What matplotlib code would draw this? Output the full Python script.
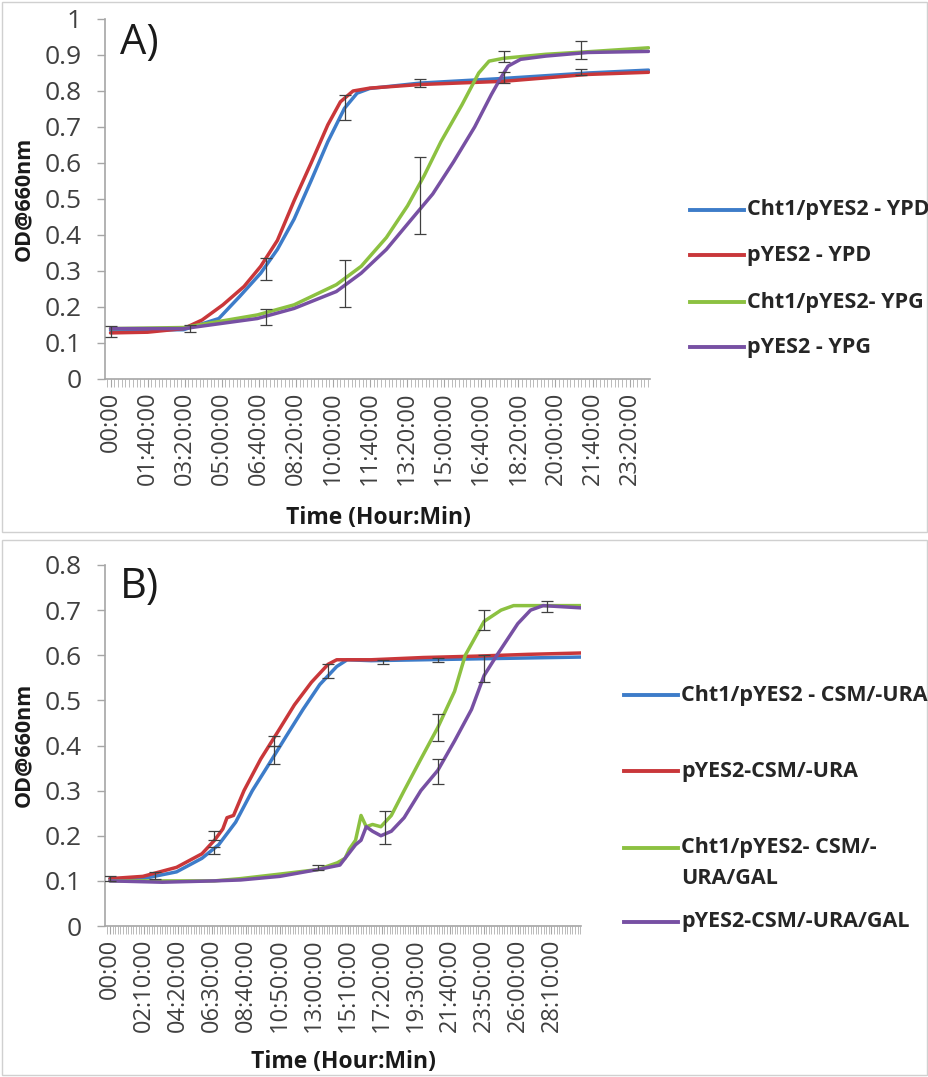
import matplotlib
matplotlib.use("Agg")
import matplotlib.pyplot as plt
from matplotlib.patches import Rectangle
from matplotlib.lines import Line2D
from matplotlib.ticker import FixedLocator, MultipleLocator

plt.rcParams['font.family'] = ['Open Sans', 'DejaVu Sans']

# ---------------- Panel A data (time in minutes, OD660) ----------------
a_blue_t = [0, 197, 292, 348, 405, 450, 495, 541, 586, 631, 665, 699, 835, 1061, 1287, 1451]
a_blue_v = [0.135, 0.137, 0.168, 0.229, 0.294, 0.360, 0.444, 0.551, 0.659, 0.752, 0.794, 0.807, 0.822, 0.835, 0.850, 0.858]

a_red_t = [0, 100, 197, 247, 303, 360, 405, 450, 495, 541, 586, 620, 654, 699, 835, 1061, 1287, 1451]
a_red_v = [0.128, 0.130, 0.140, 0.164, 0.206, 0.257, 0.313, 0.385, 0.495, 0.600, 0.706, 0.770, 0.800, 0.808, 0.818, 0.827, 0.846, 0.852]

a_green_t = [0, 197, 396, 495, 609, 676, 744, 801, 846, 891, 948, 993, 1021, 1061, 1174, 1287, 1451]
a_green_v = [0.140, 0.143, 0.178, 0.206, 0.262, 0.313, 0.393, 0.481, 0.565, 0.659, 0.762, 0.850, 0.883, 0.891, 0.902, 0.909, 0.920]

a_purple_t = [0, 197, 396, 495, 609, 676, 744, 812, 869, 925, 982, 1027, 1050, 1072, 1106, 1174, 1287, 1451]
a_purple_v = [0.140, 0.140, 0.168, 0.196, 0.243, 0.294, 0.360, 0.444, 0.514, 0.603, 0.700, 0.790, 0.832, 0.869, 0.888, 0.897, 0.907, 0.910]

a_err_t = [0, 213, 418, 418, 631, 631, 835, 835, 1061, 1061, 1270, 1270]
a_err_y = [0.132, 0.140, 0.305, 0.172, 0.755, 0.265, 0.822, 0.510, 0.838, 0.895, 0.853, 0.915]
a_err_e = [0.015, 0.010, 0.030, 0.023, 0.035, 0.065, 0.012, 0.108, 0.015, 0.015, 0.008, 0.025]

a_labels = ["Cht1/pYES2 - YPD", "pYES2 - YPD", "Cht1/pYES2- YPG", "pYES2 - YPG"]
a_tick_min = [0, 100, 200, 300, 400, 500, 600, 700, 800, 900, 1000, 1100, 1200, 1300, 1400]
a_tick_lbl = ["00:00", "01:40:00", "03:20:00", "05:00:00", "06:40:00", "08:20:00", "10:00:00",
              "11:40:00", "13:20:00", "15:00:00", "16:40:00", "18:20:00", "20:00:00",
              "21:40:00", "23:20:00"]

# ---------------- Panel B data ----------------
b_blue_t = [0, 126, 255, 352, 416, 481, 545, 610, 674, 739, 803, 868, 908, 1000, 1200, 1400, 1600, 1803]
b_blue_v = [0.105, 0.105, 0.120, 0.150, 0.180, 0.230, 0.300, 0.360, 0.420, 0.480, 0.535, 0.575, 0.590, 0.588, 0.590, 0.592, 0.594, 0.596]

b_red_t = [0, 126, 255, 352, 400, 432, 448, 473, 513, 577, 642, 706, 771, 835, 868, 1000, 1200, 1400, 1600, 1803]
b_red_v = [0.105, 0.110, 0.130, 0.160, 0.190, 0.215, 0.240, 0.245, 0.300, 0.370, 0.430, 0.490, 0.540, 0.580, 0.590, 0.590, 0.595, 0.598, 0.602, 0.605]

b_green_t = [0, 200, 400, 500, 650, 795, 870, 900, 916, 940, 961, 981, 1005, 1037, 1077, 1126, 1190, 1255, 1319, 1360, 1432, 1497, 1545, 1700, 1803]
b_green_v = [0.100, 0.100, 0.100, 0.105, 0.115, 0.125, 0.140, 0.150, 0.170, 0.190, 0.245, 0.220, 0.225, 0.220, 0.245, 0.300, 0.370, 0.440, 0.520, 0.600, 0.675, 0.700, 0.710, 0.710, 0.710]

b_purple_t = [0, 200, 400, 500, 650, 795, 880, 940, 961, 981, 1005, 1037, 1077, 1126, 1190, 1255, 1319, 1384, 1432, 1481, 1561, 1610, 1658, 1803]
b_purple_v = [0.100, 0.097, 0.100, 0.102, 0.110, 0.125, 0.135, 0.180, 0.190, 0.220, 0.210, 0.200, 0.210, 0.240, 0.300, 0.345, 0.410, 0.480, 0.555, 0.600, 0.670, 0.700, 0.710, 0.705]

b_err_t = [0, 174, 400, 400, 626, 626, 795, 835, 1053, 1255, 1255, 1255, 1432, 1432, 1674, 1045]
b_err_y = [0.105, 0.112, 0.200, 0.168, 0.410, 0.380, 0.130, 0.565, 0.218, 0.440, 0.343, 0.590, 0.678, 0.570, 0.708, 0.585]
b_err_e = [0.005, 0.008, 0.010, 0.008, 0.012, 0.020, 0.005, 0.015, 0.037, 0.030, 0.028, 0.005, 0.022, 0.030, 0.012, 0.005]

b_labels = ["Cht1/pYES2 - CSM/-URA", "pYES2-CSM/-URA", "Cht1/pYES2- CSM/-", "pYES2-CSM/-URA/GAL"]
b_label_cont = "URA/GAL"
b_tick_min = [0, 130, 260, 390, 520, 650, 780, 910, 1040, 1170, 1300, 1430, 1560, 1690]
b_tick_lbl = ["00:00", "02:10:00", "04:20:00", "06:30:00", "08:40:00", "10:50:00", "13:00:00",
              "15:10:00", "17:20:00", "19:30:00", "21:40:00", "23:50:00", "26:00:00", "28:10:00"]

colors = ["#3d7cc9", "#c9373a", "#8cc141", "#7750a3"]

W, H = 929, 1077
fig = plt.figure(figsize=(W / 100, H / 100), dpi=100)


def fx(px):
    return px / W


def fy(py):
    return 1 - py / H


# panel borders
for (y0, y1) in [(2, 532), (540, 1075)]:
    fig.patches.append(Rectangle((fx(2), fy(y1)), fx(925), (y1 - y0) / H, transform=fig.transFigure,
                                 fill=False, edgecolor="#d0d0d0", linewidth=1.0))


def style_axes(ax, xmin, xmax, ymax, ticks, labels):
    ax.set_xlim(xmin, xmax)
    ax.set_ylim(0, ymax)
    for s in ["top", "right"]:
        ax.spines[s].set_visible(False)
    for s in ["left", "bottom"]:
        ax.spines[s].set_color("#a6a6a6")
        ax.spines[s].set_linewidth(1.2)
    ax.yaxis.set_major_locator(MultipleLocator(0.1))
    ax.tick_params(axis="y", direction="out", length=6, width=1, color="#a6a6a6",
                   labelsize=19, labelcolor="#404040", pad=11)
    ax.yaxis.set_major_formatter(matplotlib.ticker.FuncFormatter(
        lambda v, p: "0" if abs(v) < 1e-9 else ("1" if abs(v - 1) < 1e-9 else f"{v:.1f}")))
    ax.xaxis.set_major_locator(FixedLocator(ticks))
    ax.set_xticklabels(labels, rotation=90)
    ax.xaxis.set_minor_locator(MultipleLocator(10))
    ax.tick_params(axis="x", which="major", direction="out", length=6, width=0.8, color="#a6a6a6",
                   labelsize=17, labelcolor="#404040", pad=3)
    ax.tick_params(axis="x", which="minor", direction="out", length=6, width=0.6, color="#b0b0b0")


def draw_panel(ax, series, err, legend_labels, leg_x, leg_ys, leg_len, fontsize_leg):
    for (t, v), c in zip(series, colors):
        ax.plot(t, v, color=c, linewidth=2.5, solid_capstyle="round", zorder=3)
    et, ey, ee = err
    ax.errorbar(et, ey, yerr=ee, fmt="none", ecolor="#404040", elinewidth=0.9,
                capsize=4, capthick=0.9, zorder=4)
    for lbl, c, ly in zip(legend_labels, colors, leg_ys):
        fig.add_artist(Line2D([fx(leg_x), fx(leg_x + leg_len)], [fy(ly), fy(ly)],
                              transform=fig.transFigure, color=c, linewidth=2.8))
        fig.text(fx(leg_x + leg_len + 3), fy(ly), lbl, fontsize=fontsize_leg, fontweight="bold",
                 color="#262626", ha="left", va="center", transform=fig.transFigure)


# ---------------- Panel A ----------------
axA = fig.add_axes([fx(105), fy(379), fx(545), 360 / H])
style_axes(axA, -15, 1455, 1.0, a_tick_min, a_tick_lbl)
draw_panel(axA, [(a_blue_t, a_blue_v), (a_red_t, a_red_v), (a_green_t, a_green_v), (a_purple_t, a_purple_v)],
           (a_err_t, a_err_y, a_err_e), a_labels, 690, [210, 255, 302, 347], 54, 15.5)
fig.text(fx(120), fy(22), "A)", fontsize=30, ha="left", va="top", color="#1a1a1a")
fig.text(fx(24), fy(199), "OD@660nm", rotation=90, fontsize=15.5, fontweight="bold",
         ha="center", va="center", color="#1a1a1a")
fig.text(fx(378), fy(518), "Time (Hour:Min)", fontsize=16.5, fontweight="bold",
         ha="center", va="center", color="#1a1a1a")

# ---------------- Panel B ----------------
axB = fig.add_axes([fx(105), fy(926), fx(476), 361 / H])
style_axes(axB, -19, 1803, 0.8, b_tick_min, b_tick_lbl)
draw_panel(axB, [(b_blue_t, b_blue_v), (b_red_t, b_red_v), (b_green_t, b_green_v), (b_purple_t, b_purple_v)],
           (b_err_t, b_err_y, b_err_e), b_labels, 624, [695, 771, 848, 922], 54, 15.5)
fig.text(fx(624 + 57), fy(878), b_label_cont, fontsize=15.5, fontweight="bold",
         color="#262626", ha="left", va="center")
fig.text(fx(120), fy(566), "B)", fontsize=30, ha="left", va="top", color="#1a1a1a")
fig.text(fx(24), fy(745), "OD@660nm", rotation=90, fontsize=15.5, fontweight="bold",
         ha="center", va="center", color="#1a1a1a")
fig.text(fx(343), fy(1062), "Time (Hour:Min)", fontsize=16.5, fontweight="bold",
         ha="center", va="center", color="#1a1a1a")

fig.savefig("out.png", dpi=100, facecolor="white")
